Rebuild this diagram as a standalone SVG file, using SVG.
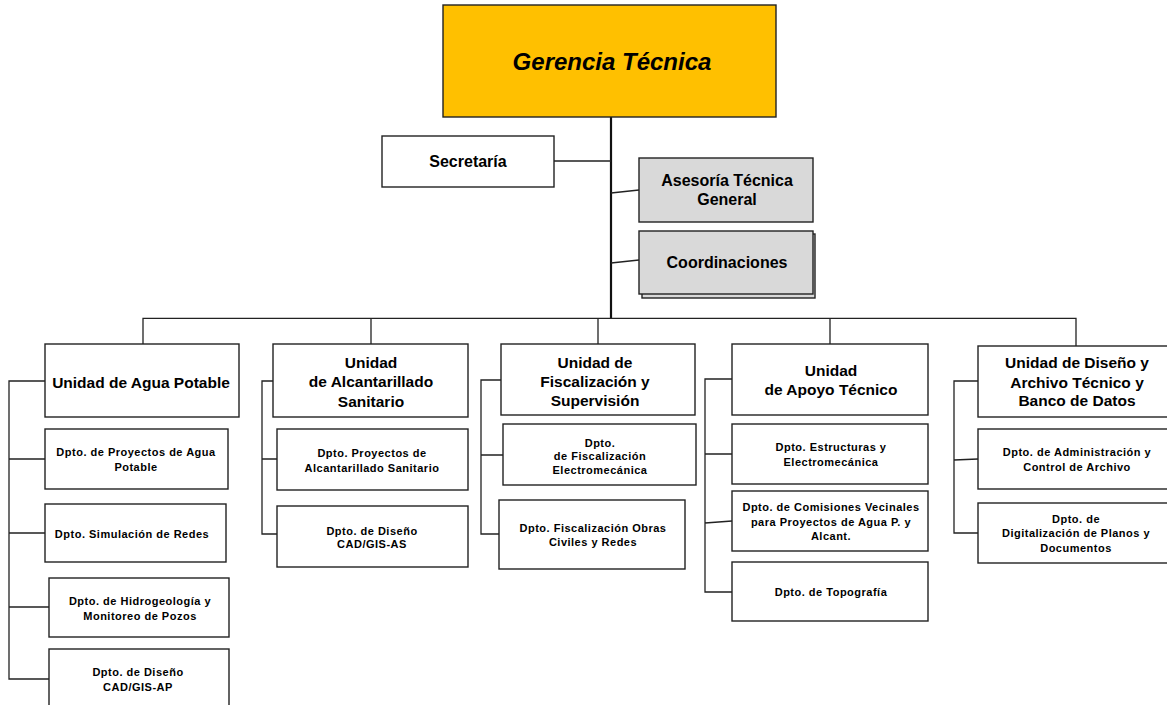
<svg xmlns="http://www.w3.org/2000/svg" width="1167" height="705" viewBox="0 0 1167 705">
<style>
.box{fill:#fff;stroke:#222;stroke-width:1.4}
.gray{fill:#d9d9d9;stroke:#222;stroke-width:1.4}
.top{fill:#ffc000;stroke:#222;stroke-width:1.4}
.ln{fill:none;stroke:#222;stroke-width:1.3}
.trunk{fill:none;stroke:#111;stroke-width:2.2}
text{font-family:"Liberation Sans",Arial,sans-serif;font-weight:bold;fill:#000;text-anchor:middle;dominant-baseline:central}
.t1{font-size:24px;font-style:italic}
.t2{font-size:16px}
.t3{font-size:15.5px}
.t4{font-size:11px;letter-spacing:0.5px}
</style>
<rect width="1167" height="705" fill="#fff"/>
<g id="connectors">
<path class="trunk" d="M611 117V318"/>
<path class="ln" d="M554 161H611M611 193L639 190M611 263L639 260"/>
<path class="ln" d="M143 344V318.3H1076V346M371 318V344M598 318V344M830 318V344"/>
<path class="ln" d="M45 381H9V679H49M9 459H45M9 533H45M9 607H49"/>
<path class="ln" d="M273 381H262V534H277M262 459H277"/>
<path class="ln" d="M501 380H481V534H499M481 455H503"/>
<path class="ln" d="M732 379H705V592H732M705 454H732M705 523L732 521"/>
<path class="ln" d="M978 381H954V533H978M954 460L978 459"/>
</g>
<g id="gerencia"><rect class="top" x="443" y="5" width="333" height="112"/><text class="t1" x="612" y="61">Gerencia Técnica</text></g>
<g id="secretaria"><rect class="box" x="382" y="136" width="172" height="51"/><text class="t2" x="468" y="161">Secretaría</text></g>
<g id="asesoria"><rect class="gray" x="639" y="158" width="174" height="64"/><text class="t2" x="727" y="180">Asesoría Técnica</text><text class="t2" x="727" y="199">General</text></g>
<g id="coordinaciones"><rect class="gray" x="642" y="234" width="173" height="64"/><rect class="gray" x="639" y="231" width="174" height="63"/><text class="t2" x="727" y="262">Coordinaciones</text></g>

<g id="u1"><rect class="box" x="45" y="344" width="194" height="73"/><text class="t3" x="141" y="382">Unidad de Agua Potable</text></g>
<g id="u1d1"><rect class="box" x="45" y="429" width="183" height="60"/><text class="t4" x="136" y="452">Dpto. de Proyectos de Agua</text><text class="t4" x="136" y="467">Potable</text></g>
<g id="u1d2"><rect class="box" x="45" y="504" width="181" height="58"/><text class="t4" x="132" y="534">Dpto. Simulación de Redes</text></g>
<g id="u1d3"><rect class="box" x="49" y="578" width="180" height="59"/><text class="t4" x="140" y="601">Dpto. de Hidrogeología y</text><text class="t4" x="140" y="616">Monitoreo de Pozos</text></g>
<g id="u1d4"><rect class="box" x="49" y="649" width="180" height="70"/><text class="t4" x="138" y="672">Dpto. de Diseño</text><text class="t4" x="138" y="687">CAD/GIS-AP</text></g>

<g id="u2"><rect class="box" x="273" y="344" width="195" height="73"/><text class="t3" x="371" y="362">Unidad</text><text class="t3" x="371" y="381">de Alcantarillado</text><text class="t3" x="371" y="401">Sanitario</text></g>
<g id="u2d1"><rect class="box" x="277" y="429" width="191" height="61"/><text class="t4" x="372" y="453">Dpto. Proyectos de</text><text class="t4" x="372" y="468">Alcantarillado Sanitario</text></g>
<g id="u2d2"><rect class="box" x="277" y="506" width="191" height="61"/><text class="t4" x="372" y="531">Dpto. de Diseño</text><text class="t4" x="372" y="544">CAD/GIS-AS</text></g>

<g id="u3"><rect class="box" x="501" y="344" width="194" height="71"/><text class="t3" x="595" y="362">Unidad de</text><text class="t3" x="595" y="381">Fiscalización y</text><text class="t3" x="595" y="400">Supervisión</text></g>
<g id="u3d1"><rect class="box" x="503" y="424" width="193" height="61"/><text class="t4" x="600" y="443">Dpto.</text><text class="t4" x="600" y="456">de Fiscalización</text><text class="t4" x="600" y="470">Electromecánica</text></g>
<g id="u3d2"><rect class="box" x="499" y="500" width="186" height="69"/><text class="t4" x="593" y="528">Dpto. Fiscalización Obras</text><text class="t4" x="593" y="542">Civiles y Redes</text></g>

<g id="u4"><rect class="box" x="732" y="344" width="196" height="71"/><text class="t3" x="831" y="370">Unidad</text><text class="t3" x="831" y="389">de Apoyo Técnico</text></g>
<g id="u4d1"><rect class="box" x="732" y="424" width="196" height="60"/><text class="t4" x="831" y="447">Dpto. Estructuras y</text><text class="t4" x="831" y="462">Electromecánica</text></g>
<g id="u4d2"><rect class="box" x="732" y="491" width="196" height="60"/><text class="t4" x="831" y="507">Dpto. de Comisiones Vecinales</text><text class="t4" x="831" y="522">para Proyectos de Agua P. y</text><text class="t4" x="831" y="536">Alcant.</text></g>
<g id="u4d3"><rect class="box" x="732" y="562" width="196" height="59"/><text class="t4" x="831" y="592">Dpto. de Topografía</text></g>

<g id="u5"><rect class="box" x="978" y="346" width="200" height="71"/><text class="t3" x="1077" y="362">Unidad de Diseño y</text><text class="t3" x="1077" y="382">Archivo Técnico y</text><text class="t3" x="1077" y="400">Banco de Datos</text></g>
<g id="u5d1"><rect class="box" x="978" y="429" width="200" height="60"/><text class="t4" x="1077" y="452">Dpto. de Administración y</text><text class="t4" x="1077" y="467">Control de Archivo</text></g>
<g id="u5d2"><rect class="box" x="978" y="503" width="200" height="60"/><text class="t4" x="1076" y="519">Dpto. de</text><text class="t4" x="1076" y="533">Digitalización de Planos y</text><text class="t4" x="1076" y="548">Documentos</text></g>
</svg>
